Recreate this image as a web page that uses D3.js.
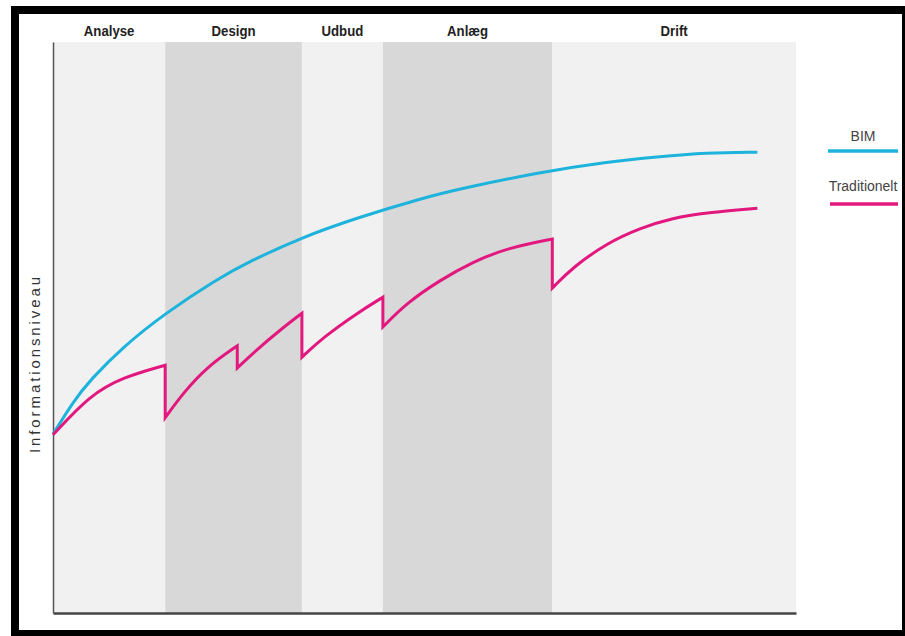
<!DOCTYPE html>
<html>
<head>
<meta charset="utf-8">
<script src="https://cdn.jsdelivr.net/npm/d3@7"></script>
<style>
  body { margin: 0; background: #fff; }
</style>
</head>
<body>
<svg id="chart" width="905" height="636"></svg>
<script>
const width = 905;
const height = 636;
const margin = { top: 42, right: 109, bottom: 23, left: 53 };

// Phases (x in % of project life cycle)
const phaseNames = ["Analyse", "Design", "Udbud", "Anlæg", "Drift"];
const phaseStarts = [0, 15.1, 33.5, 44.4, 67.2];
const phaseEnds = [15.1, 33.5, 44.4, 67.2, 100];

// BIM curve
const bimX = [0, 2.7, 5.0, 9.4, 15.1, 22.1, 26.5, 33.5, 40.9, 49.8, 54.8, 65.5, 74.6, 81.3, 88.0, 94.8];
const bimY = [31.3, 37.0, 40.8, 46.6, 52.5, 58.5, 61.6, 65.8, 69.2, 72.7, 74.3, 77.2, 79.0, 79.9, 80.6, 80.7];

// Traditionelt curve, one segment per rise (drops happen between segments)
const tradX = [
  [0, 5.0, 9.4, 15.1],
  [15.1, 17.5, 20.7, 24.8],
  [24.8, 27.5, 30.6, 33.5],
  [33.5, 36.3, 40.9, 44.4],
  [44.4, 47.6, 52.1, 56.5, 61.1, 67.2],
  [67.2, 70.0, 74.6, 79.0, 83.4, 88.0, 94.8],
];
const tradY = [
  [31.2, 38.2, 41.3, 43.4],
  [34.2, 38.5, 43.1, 46.8],
  [42.9, 46.2, 49.6, 52.5],
  [44.8, 48.2, 52.5, 55.3],
  [50.1, 54.3, 58.3, 61.5, 63.9, 65.5],
  [56.9, 60.6, 64.8, 67.4, 69.2, 70.1, 70.9],
];

const seriesNames = ["BIM", "Traditionelt"];
const seriesColors = ["#1db3dc", "#e2187f"];

const svg = d3.select("#chart");

// Frame
svg.append("rect")
  .attr("x", 15).attr("y", 10)
  .attr("width", 891).attr("height", 624)
  .attr("fill", "#fff")
  .attr("stroke", "#000")
  .attr("stroke-width", 8);

const plotW = width - margin.left - margin.right;
const plotH = height - margin.top - margin.bottom;

const xScale = d3.scaleLinear().domain([0, 100]).range([0, plotW]);
const yScale = d3.scaleLinear().domain([0, 100]).range([plotH, 0]);

const g = svg.append("g")
  .attr("transform", "translate(" + margin.left + "," + margin.top + ")");

// Phase bands
g.selectAll("rect.band")
  .data(phaseNames)
  .enter()
  .append("rect")
  .attr("class", "band")
  .attr("x", (d, i) => xScale(phaseStarts[i]))
  .attr("y", 0)
  .attr("width", (d, i) => xScale(phaseEnds[i]) - xScale(phaseStarts[i]))
  .attr("height", plotH)
  .attr("fill", (d, i) => (i % 2 ? "#d8d8d8" : "#f1f1f1"));

// phase labels, squeezed a bit to look condensed
g.selectAll("text.phase")
  .data(phaseNames)
  .enter()
  .append("text")
  .attr("class", "phase")
  .attr("transform", (d, i) =>
    "translate(" + xScale((phaseStarts[i] + phaseEnds[i]) / 2) + ",-6) scale(0.88,1)")
  .attr("text-anchor", "middle")
  .attr("font-family", "'Liberation Sans', Arial, sans-serif")
  .attr("font-weight", "bold")
  .attr("font-size", 15)
  .attr("fill", "#222")
  .text((d) => d);

// Axes (no ticks)
const xAxis = d3.axisBottom(xScale).tickValues([]).tickSizeOuter(0);
const yAxis = d3.axisLeft(yScale).tickValues([]).tickSizeOuter(0);

g.append("g")
  .attr("transform", "translate(0," + plotH + ")")
  .call(xAxis)
  .select(".domain")
  .attr("stroke", "#444")
  .attr("stroke-width", 2.5);

g.append("g")
  .call(yAxis)
  .select(".domain")
  .attr("stroke", "#555")
  .attr("stroke-width", 1.5);

svg.append("text")
  .attr("transform", "translate(40,365) rotate(-90)")
  .attr("text-anchor", "middle")
  .attr("font-family", "'Liberation Sans', Arial, sans-serif")
  .attr("font-size", 15)
  .attr("textLength", 176)
  .attr("lengthAdjust", "spacing")
  .attr("fill", "#333")
  .text("Informationsniveau");

// Curves
const line = d3.line()
  .x((d) => xScale(d[0]))
  .y((d) => yScale(d[1]))
  .curve(d3.curveBasis);

const bimPath = line(d3.zip(bimX, bimY));

// join the rises into one path; each new segment starts with a vertical drop
const tradPath = tradX
  .map((xs, i) => {
    const p = line(d3.zip(xs, tradY[i]));
    return i === 0 ? p : "L" + p.slice(1);
  })
  .join("");

g.selectAll("path.series")
  .data([bimPath, tradPath])
  .enter()
  .append("path")
  .attr("class", "series")
  .attr("d", (d) => d)
  .attr("fill", "none")
  .attr("stroke", (d, i) => seriesColors[i])
  .attr("stroke-width", 3)
  .attr("stroke-linejoin", "miter");

// Legend
const legend = svg.append("g").attr("transform", "translate(828,0)");

legend.selectAll("text")
  .data(seriesNames)
  .enter()
  .append("text")
  .attr("x", 35)
  .attr("y", (d, i) => 141 + i * 50)
  .attr("text-anchor", "middle")
  .attr("font-family", "'Liberation Sans', Arial, sans-serif")
  .attr("font-size", 14)
  .attr("fill", "#444")
  .text((d) => d);

legend.selectAll("line")
  .data(seriesNames)
  .enter()
  .append("line")
  .attr("x1", (d, i) => i * 2)
  .attr("x2", 70)
  .attr("y1", (d, i) => 151 + i * 53)
  .attr("y2", (d, i) => 151 + i * 53)
  .attr("stroke", (d, i) => seriesColors[i])
  .attr("stroke-width", 3.5);
</script>
</body>
</html>
